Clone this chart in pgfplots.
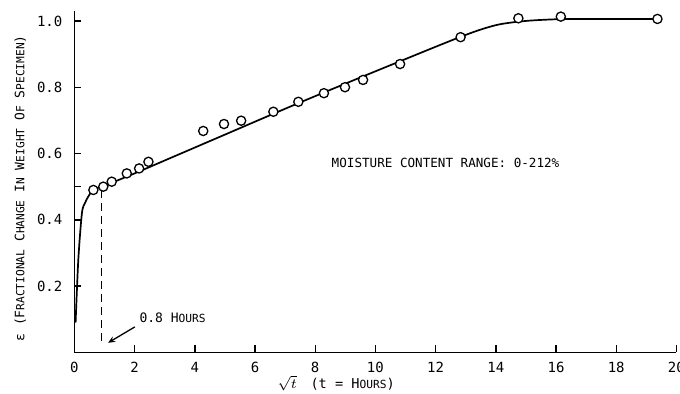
\documentclass[border=0pt]{standalone}
\usepackage{fontspec}
\setmainfont{DejaVu Sans Mono}
\usepackage{pgfplots}
\pgfplotsset{compat=1.18}
\usetikzlibrary{arrows.meta}
% lettering: capitals at full size, the rest as smaller capitals
\newcommand\smc[1]{{\fontsize{5.6}{7}\selectfont #1}}

\begin{document}
\begin{tikzpicture}
\begin{axis}[
  scale only axis, width=301pt, height=170.7pt,
  xmin=0, xmax=20, ymin=0, ymax=1.03,
  axis x line=bottom, axis y line=left,
  axis line style={-, line width=0.85pt},
  xtick={0,2,...,20}, ytick={0.2,0.4,0.6,0.8,1.0},
  extra y ticks={0.5}, extra y tick labels={},
  tick align=inside, major tick length=3.5pt,
  tick style={line width=0.7pt, black},
  /pgf/number format/assume math mode=true,
  ticklabel style={font=\fontsize{7}{8}\selectfont},
  yticklabel style={xshift=-2.5pt, /pgf/number format/.cd, fixed, fixed zerofill, precision=1},
  xticklabel style={yshift=-1.2pt},
  xlabel={$\sqrt{t}$\quad(t = H\smc{OURS})},
  xlabel style={at={(axis description cs:0.435,-0.0896)}, anchor=center, font=\fontsize{6.8}{8}\selectfont},
  ylabel={ε (F\smc{RACTIONAL} C\smc{HANGE} I\smc{N} W\smc{EIGHT} O\smc{F} S\smc{PECIMEN})},
  ylabel style={at={(axis description cs:-0.09,0.48)}, anchor=center, font=\fontsize{6.5}{8}\selectfont},
  clip=false,
]
% fitted sorption curve
\addplot[black, line width=0.85pt, smooth, tension=0.5] coordinates {
  (0.04,0.09) (0.13,0.28) (0.25,0.42) (0.35,0.45) (0.46,0.47) (0.63,0.49)
  (1.0,0.503) (2.0,0.54) (3.18,0.586) (5.0,0.657) (7.0,0.735) (8.5,0.792)
  (10.0,0.848) (11.0,0.885) (12.0,0.922) (12.83,0.952) (13.5,0.974)
  (14.14,0.99) (15.0,1.0) (16.0,1.005) (17.0,1.006) (19.37,1.006)
};
% measured points
\addplot[only marks, mark=*, mark size=2.3pt,
  mark options={fill=white, draw=black, line width=0.65pt}] coordinates {
  (0.63,0.49) (0.96,0.50) (1.24,0.515) (1.74,0.54) (2.15,0.555) (2.46,0.575)
  (4.28,0.668) (4.97,0.689) (5.54,0.699) (6.61,0.726) (7.44,0.756)
  (8.29,0.782) (8.99,0.80) (9.59,0.822) (10.82,0.87) (12.83,0.951)
  (14.75,1.008) (16.16,1.013) (19.37,1.006)
};
% time marker at t = 0.8 h
\addplot[black, line width=0.8pt, dash pattern=on 4pt off 2.5pt] coordinates {(0.894,0.49) (0.894,0.02)};
\draw[-{Stealth[length=3.5pt,width=3pt]}, line width=0.65pt] (axis cs:2.01,0.077) -- (axis cs:1.12,0.029);
\node[anchor=west, inner sep=0pt, font=\fontsize{6.5}{8}\selectfont] at (axis cs:2.15,0.104) {0.8 H\smc{OURS}};
\node[font=\fontsize{6.3}{8}\selectfont] at (axis cs:12.33,0.571) {MOISTURE CONTENT RANGE: 0-212\%};
\end{axis}
\pgfresetboundingbox
\path (current axis.south west) ++(-37.2pt,-20.8pt) rectangle ++(340pt,197pt);
\end{tikzpicture}
\end{document}
